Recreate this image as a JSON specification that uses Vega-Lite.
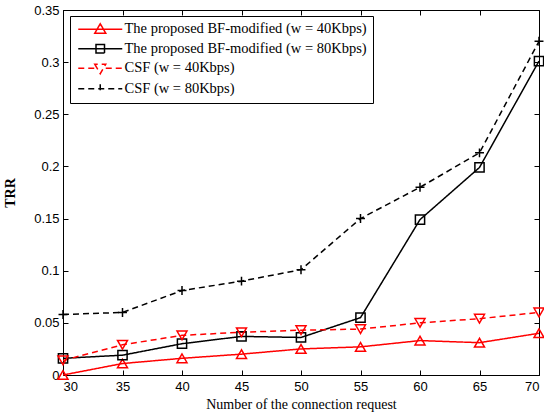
{
  "$schema": "https://vega.github.io/schema/vega-lite/v6.json",
  "width": 476,
  "height": 365,
  "autosize": "none",
  "padding": {"left": 63, "top": 10, "right": 5, "bottom": 42},
  "background": "white",
  "config": {
    "view": {"stroke": "black", "strokeWidth": 1},
    "font": "Liberation Serif",
    "axis": {"grid": false, "domainColor": "black", "tickColor": "black", "labelColor": "black", "titleColor": "black", "labelFont": "Liberation Sans", "labelFontSize": 13, "titleFont": "Liberation Serif", "titleFontSize": 14}
  },
  "data": {
    "values": [
      {"x": 30, "y": 0.000, "series": "The proposed BF-modified (w = 40Kbps)"},
      {"x": 35, "y": 0.011, "series": "The proposed BF-modified (w = 40Kbps)"},
      {"x": 40, "y": 0.016, "series": "The proposed BF-modified (w = 40Kbps)"},
      {"x": 45, "y": 0.020, "series": "The proposed BF-modified (w = 40Kbps)"},
      {"x": 50, "y": 0.025, "series": "The proposed BF-modified (w = 40Kbps)"},
      {"x": 55, "y": 0.027, "series": "The proposed BF-modified (w = 40Kbps)"},
      {"x": 60, "y": 0.033, "series": "The proposed BF-modified (w = 40Kbps)"},
      {"x": 65, "y": 0.031, "series": "The proposed BF-modified (w = 40Kbps)"},
      {"x": 70, "y": 0.040, "series": "The proposed BF-modified (w = 40Kbps)"},
      {"x": 30, "y": 0.016, "series": "The proposed BF-modified (w = 80Kbps)"},
      {"x": 35, "y": 0.019, "series": "The proposed BF-modified (w = 80Kbps)"},
      {"x": 40, "y": 0.030, "series": "The proposed BF-modified (w = 80Kbps)"},
      {"x": 45, "y": 0.037, "series": "The proposed BF-modified (w = 80Kbps)"},
      {"x": 50, "y": 0.036, "series": "The proposed BF-modified (w = 80Kbps)"},
      {"x": 55, "y": 0.055, "series": "The proposed BF-modified (w = 80Kbps)"},
      {"x": 60, "y": 0.149, "series": "The proposed BF-modified (w = 80Kbps)"},
      {"x": 65, "y": 0.199, "series": "The proposed BF-modified (w = 80Kbps)"},
      {"x": 70, "y": 0.301, "series": "The proposed BF-modified (w = 80Kbps)"},
      {"x": 30, "y": 0.014, "series": "CSF (w = 40Kbps)"},
      {"x": 35, "y": 0.029, "series": "CSF (w = 40Kbps)"},
      {"x": 40, "y": 0.038, "series": "CSF (w = 40Kbps)"},
      {"x": 45, "y": 0.041, "series": "CSF (w = 40Kbps)"},
      {"x": 50, "y": 0.043, "series": "CSF (w = 40Kbps)"},
      {"x": 55, "y": 0.044, "series": "CSF (w = 40Kbps)"},
      {"x": 60, "y": 0.050, "series": "CSF (w = 40Kbps)"},
      {"x": 65, "y": 0.054, "series": "CSF (w = 40Kbps)"},
      {"x": 70, "y": 0.060, "series": "CSF (w = 40Kbps)"},
      {"x": 30, "y": 0.058, "series": "CSF (w = 80Kbps)"},
      {"x": 35, "y": 0.060, "series": "CSF (w = 80Kbps)"},
      {"x": 40, "y": 0.081, "series": "CSF (w = 80Kbps)"},
      {"x": 45, "y": 0.090, "series": "CSF (w = 80Kbps)"},
      {"x": 50, "y": 0.101, "series": "CSF (w = 80Kbps)"},
      {"x": 55, "y": 0.150, "series": "CSF (w = 80Kbps)"},
      {"x": 60, "y": 0.180, "series": "CSF (w = 80Kbps)"},
      {"x": 65, "y": 0.213, "series": "CSF (w = 80Kbps)"},
      {"x": 70, "y": 0.320, "series": "CSF (w = 80Kbps)"}
    ]
  },
  "encoding": {
    "x": {"field": "x", "type": "quantitative", "scale": {"domain": [30, 70], "nice": false, "zero": false}},
    "y": {"field": "y", "type": "quantitative", "scale": {"domain": [0, 0.35], "nice": false}},
    "color": {"field": "series", "type": "nominal",
      "scale": {"domain": ["The proposed BF-modified (w = 40Kbps)", "The proposed BF-modified (w = 80Kbps)", "CSF (w = 40Kbps)", "CSF (w = 80Kbps)"], "range": ["#ff0000", "#000000", "#ff0000", "#000000"]}}
  },
  "layer": [
    {
      "mark": {"type": "line", "strokeWidth": 1.5},
      "encoding": {
        "x": {"field": "x", "type": "quantitative",
              "axis": {"values": [30, 35, 40, 45, 50, 55, 60, 65, 70], "tickSize": -5, "labelPadding": 10, "title": "Number of the connection request", "titleFontWeight": "normal", "titlePadding": 4}},
        "y": {"field": "y", "type": "quantitative",
              "axis": {"values": [0, 0.05, 0.1, 0.15, 0.2, 0.25, 0.3, 0.35], "format": "~g", "tickSize": -5, "labelPadding": 9, "title": "TRR", "titleFontWeight": "bold", "titlePadding": 16}},
        "color": {"field": "series", "type": "nominal",
          "legend": {"title": null, "orient": "none", "legendX": 7, "legendY": 6, "fillColor": "white", "strokeColor": "black", "padding": 6,
            "labelFont": "Liberation Serif", "labelFontSize": 14.5, "labelColor": "black", "labelLimit": 400, "rowPadding": 3.5, "symbolSize": 100, "symbolOffset": 17, "labelOffset": 17,
            "encode": {"symbols": {"update": {
              "shape": {"signal": "datum.index === 0 ? 'M-4.4,0L4.4,0M-1.1,0.8L0,-1.1L1.1,0.8Z' : datum.index === 1 ? 'M-4.4,0L4.4,0M-0.85,-0.85L0.85,-0.85L0.85,0.85L-0.85,0.85Z' : datum.index === 2 ? 'M-4.4,0L-1.1,0M1.1,0L4.4,0M-1.1,-0.8L0,1.1L1.1,-0.8Z' : 'M-4.4,0L4.4,0M0,-0.9L0,0.9'"},
              "strokeDash": {"signal": "datum.index < 2 ? [1,0] : [5,3]"},
              "strokeWidth": {"value": 1.5},
              "fill": {"value": "transparent"}
            }}}}},
        "strokeDash": {"field": "series", "type": "nominal",
          "scale": {"domain": ["The proposed BF-modified (w = 40Kbps)", "The proposed BF-modified (w = 80Kbps)", "CSF (w = 40Kbps)", "CSF (w = 80Kbps)"], "range": [[1, 0], [1, 0], [6, 4], [6, 4]]},
          "legend": null}
      }
    },
    {
      "transform": [{"filter": "datum.series === 'The proposed BF-modified (w = 40Kbps)'"}],
      "mark": {"type": "point", "shape": "triangle-up", "size": 100, "filled": false, "strokeWidth": 1.5, "opacity": 1},
      "encoding": {
        "x": {"field": "x", "type": "quantitative", "axis": {"orient": "top", "values": [30, 35, 40, 45, 50, 55, 60, 65, 70], "tickSize": -5, "labels": false, "title": null, "domain": false}},
        "y": {"field": "y", "type": "quantitative", "axis": {"orient": "right", "values": [0, 0.05, 0.1, 0.15, 0.2, 0.25, 0.3, 0.35], "tickSize": -5, "labels": false, "title": null, "domain": false}}
      }
    },
    {
      "transform": [{"filter": "datum.series === 'The proposed BF-modified (w = 80Kbps)'"}],
      "mark": {"type": "point", "shape": "square", "size": 85, "filled": false, "strokeWidth": 1.5, "opacity": 1},
      "encoding": {
        "x": {"field": "x", "type": "quantitative", "axis": null},
        "y": {"field": "y", "type": "quantitative", "axis": null}
      }
    },
    {
      "transform": [{"filter": "datum.series === 'CSF (w = 40Kbps)'"}],
      "mark": {"type": "point", "shape": "triangle-down", "size": 100, "filled": false, "strokeWidth": 1.5, "opacity": 1},
      "encoding": {
        "x": {"field": "x", "type": "quantitative", "axis": null},
        "y": {"field": "y", "type": "quantitative", "axis": null}
      }
    },
    {
      "transform": [{"filter": "datum.series === 'CSF (w = 80Kbps)'"}],
      "mark": {"type": "point", "shape": "M-1,0L1,0M0,-1L0,1", "size": 80, "filled": false, "strokeWidth": 1.5, "opacity": 1},
      "encoding": {
        "x": {"field": "x", "type": "quantitative", "axis": null},
        "y": {"field": "y", "type": "quantitative", "axis": null}
      }
    }
  ],
  "resolve": {"axis": {"x": "independent", "y": "independent"}}
}
